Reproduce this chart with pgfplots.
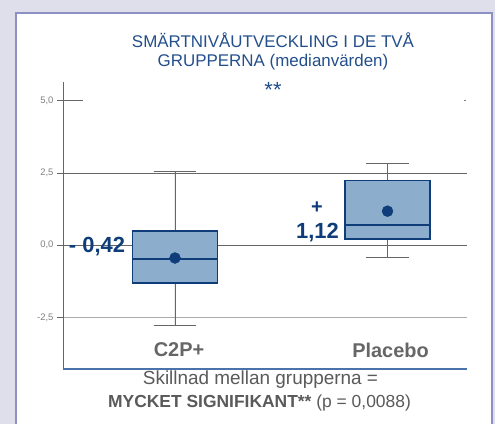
\documentclass[border=0pt]{standalone}
\usepackage{pgfplots}
\pgfplotsset{compat=1.18}
\usepgfplotslibrary{statistics}
\usepackage{fontspec}
\setmainfont{Liberation Sans}
\definecolor{dblue}{HTML}{0E3D7A}
\definecolor{tblue}{HTML}{234F8C}
\definecolor{bfill}{HTML}{8DADCC}
\definecolor{framec}{HTML}{8C90C2}
\definecolor{bgc}{HTML}{DEDFEA}
\definecolor{txtgray}{HTML}{5A5A5A}
\definecolor{catgray}{HTML}{666666}
\definecolor{axgray}{HTML}{666666}
\definecolor{lgray}{HTML}{ABABAB}
\definecolor{xblue}{HTML}{4A72AC}
\begin{document}
\begin{tikzpicture}
\useasboundingbox (0bp,0bp) rectangle (495bp,424bp);
\fill[bgc] (0bp,0bp) rectangle (495bp,424bp);
\filldraw[fill=white, draw=framec, line width=1.5bp] (16bp,-5bp) rectangle (492bp,411bp);
% horizontal reference lines (decoration)
\draw[axgray, line width=0.8bp] (63bp,250.7bp) -- (467bp,250.7bp);
\draw[axgray, line width=0.8bp] (63bp,178.7bp) -- (467bp,178.7bp);
\draw[lgray, line width=1.5bp] (63bp,106.4bp) -- (467bp,106.4bp);
\draw[axgray, line width=0.8bp] (63bp,323.3bp) -- (83bp,323.3bp);
\draw[gray, line width=0.6bp] (464bp,323.3bp) -- (465.5bp,323.3bp);
\begin{axis}[
  at={(63bp,55bp)}, anchor=south west, scale only axis,
  width=404bp, height=287bp,
  xmin=-0.527, xmax=1.374, ymin=-4.28, ymax=5.65,
  axis lines=left, axis line style={-},
  x axis line style={xblue, line width=1.2bp},
  y axis line style={axgray, line width=0.8bp},
  xtick=\empty, ytick={-2.5,0,2.5,5},
  tick align=outside, major tick length=6bp,
  ytick style={axgray, line width=0.8bp},
  yticklabel style={font=\fontsize{9.5}{10}\selectfont, text=gray,
    /pgf/number format/.cd, fixed, fixed zerofill, precision=1, use comma, assume math mode=true},
  clip=false,
  boxplot/draw direction=y,
  boxplot/every whisker/.style={axgray, line width=0.8bp},
  boxplot/every median/.style={dblue, line width=1.8bp},
]
\addplot[boxplot prepared={draw position=0, lower whisker=-2.76, lower quartile=-1.30,
  median=-0.48, upper quartile=0.495, upper whisker=2.54, box extend=0.4, whisker extend=0.2},
  draw=dblue, fill=bfill, line width=1.6bp] coordinates {};
\addplot[boxplot prepared={draw position=1, lower whisker=-0.42, lower quartile=0.22,
  median=0.70, upper quartile=2.24, upper whisker=2.83, box extend=0.4, whisker extend=0.2},
  draw=dblue, fill=bfill, line width=1.6bp] coordinates {};
\addplot[only marks, mark=*, mark size=5.5bp, color=dblue] coordinates {(0,-0.44) (1,1.18)};
\end{axis}
\node[text=tblue, font=\fontsize{17}{19}\selectfont] at (273bp,384bp) {SMÄRTNIVÅUTVECKLING I DE TVÅ};
\node[text=tblue, font=\fontsize{17}{19}\selectfont] at (273bp,362bp) {GRUPPERNA (medianvärden)};
\node[text=tblue, font=\fontsize{22}{24}\selectfont] at (273bp,334bp) {**};
\node[text=dblue, font=\bfseries\fontsize{22}{24}\selectfont] at (97bp,177bp) {- 0,42};
\node[text=dblue, font=\bfseries\fontsize{20}{22}\selectfont] at (317bp,216bp) {+};
\node[text=dblue, font=\bfseries\fontsize{22}{24}\selectfont] at (317.5bp,191bp) {1,12};
\node[text=catgray, font=\bfseries\fontsize{20}{22}\selectfont] at (179bp,74bp) {C2P+};
\node[text=catgray, font=\bfseries\fontsize{20}{22}\selectfont] at (390.5bp,74bp) {Placebo};
\node[text=txtgray, font=\fontsize{19}{21}\selectfont] at (260.5bp,44bp) {Skillnad mellan grupperna =};
\node[text=txtgray, font=\fontsize{17.5}{19}\selectfont] at (259.5bp,21bp) {\textbf{MYCKET SIGNIFIKANT**} (p = 0,0088)};
\end{tikzpicture}
\end{document}
